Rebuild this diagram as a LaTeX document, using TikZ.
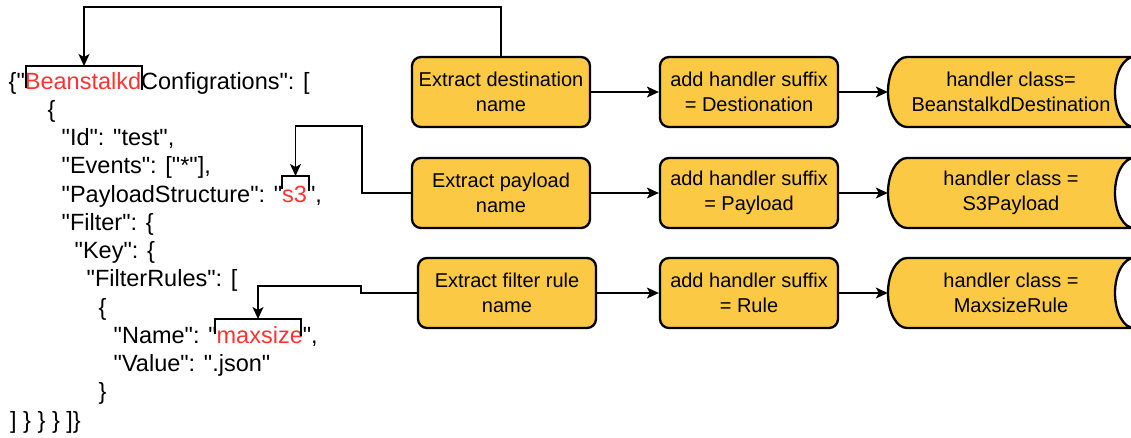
\documentclass[tikz,border=0pt]{standalone}
\usepackage{fontspec}
\setmainfont{Liberation Sans}[Ligatures=TeXOff]
\usetikzlibrary{arrows.meta}
\definecolor{boxfill}{HTML}{FBC944}
\definecolor{hl}{HTML}{FF3333}
\newcommand\datastoreshape[1]{%
  \draw[hcshape] (907,{#1-35}) -- (1134,{#1-35})
    .. controls (1123.5,{#1-35}) and (1115,{#1-19.3}) .. (1115,{#1})
    .. controls (1115,{#1+19.3}) and (1123.5,{#1+35}) .. (1134,{#1+35})
    -- (907,{#1+35})
    .. controls (896.5,{#1+35}) and (888,{#1+19.3}) .. (888,{#1})
    .. controls (888,{#1-19.3}) and (896.5,{#1-35}) .. (907,{#1-35}) -- cycle;}
\begin{document}
\begin{tikzpicture}[x=1pt,y=-1pt,
  json/.style={anchor=base west, inner sep=0pt, font=\fontsize{23.5}{28}\selectfont},
  stepbox/.style={draw, line width=2.3pt, fill=boxfill, rounded corners=9pt,
    minimum width=178pt, minimum height=70pt, align=center, inner sep=0pt,
    font=\fontsize{20}{24.5}\selectfont},
  hcbox/.style={minimum width=246pt, minimum height=70pt, align=center, inner sep=0pt,
    font=\fontsize{20}{24.5}\selectfont},
  hcshape/.style={draw, line width=2.3pt, fill=boxfill, line join=round},
  conn/.style={line width=1.3pt, -{Stealth[length=12pt,width=11pt,inset=3pt]}},
  brk/.style={line width=1.3pt}
]
\useasboundingbox (0,0) rectangle (1131,437);

% JSON text
\node[json] (j1)  at (8.5,89)     {\{"\textcolor{hl}{Beanstalkd}Configrations": [};
\node[json] (j2)  at (47.5,117.25) {\{};
\node[json] (j3)  at (61.5,145.5)  {"Id": "test",};
\node[json] (j4)  at (61.5,173.75) {"Events": ["*"],};
\node[json] (j5)  at (61.5,202)    {"PayloadStructure": "\textcolor{hl}{s3}",};
\node[json] (j6)  at (61.5,230.25) {"Filter": \{};
\node[json] (j7)  at (74.5,258.5)  {"Key": \{};
\node[json] (j8)  at (86.5,286.75) {"FilterRules": [};
\node[json] (j9)  at (98.5,315)    {\{};
\node[json] (j10) at (113.5,343.25) {"Name": "\textcolor{hl}{maxsize}",};
\node[json] (j11) at (113.5,371.5)  {"Value": ".json"};
\node[json] (j12) at (98.5,399.75)  {\}};
\node[json] (j13) at (10,428)       {] \} \} \} ]\}};

% brackets
\draw[brk] (26,88) |- (142,66) -- (142,90);
\draw[brk] (282,189) |- (309,176) -- (309,191);
\draw[brk] (215,334) |- (301,319) -- (301,336);
\coordinate (b1) at (84,66);
\coordinate (b2) at (295.5,176);
\coordinate (b3) at (258,319);

% boxes
\node[stepbox] (ed)  at (501,92)  {Extract destination\\name};
\node[stepbox] (ah1) at (749,92)  {add handler suffix\\= Destionation};
\node[stepbox] (ep)  at (501,193) {Extract payload\\name};
\node[stepbox] (ah2) at (749,193) {add handler suffix\\= Payload};
\node[stepbox] (ef)  at (507,293) {Extract filter rule\\name};
\node[stepbox] (ah3) at (749,293) {add handler suffix\\= Rule};

\datastoreshape{92}
\datastoreshape{193}
\datastoreshape{293}
\node[hcbox] (hc1) at (1011,92)  {handler class=\\BeanstalkdDestination};
\node[hcbox] (hc2) at (1011,193) {handler class =\\S3Payload};
\node[hcbox] (hc3) at (1011,293) {handler class =\\MaxsizeRule};

% connectors
\draw[conn] (ed) -- (ah1);
\draw[conn] (ah1) -- (hc1);
\draw[conn] (ep) -- (ah2);
\draw[conn] (ah2) -- (hc2);
\draw[conn] (ef) -- (ah3);
\draw[conn] (ah3) -- (hc3);

\draw[conn] (ed.north) -- ++(0,-49) -| (b1);
\draw[conn] (ep.west) -| (362,126) -| (b2);
\draw[conn] (ef.west) -| (361,286) -| (b3);
\end{tikzpicture}
\end{document}
